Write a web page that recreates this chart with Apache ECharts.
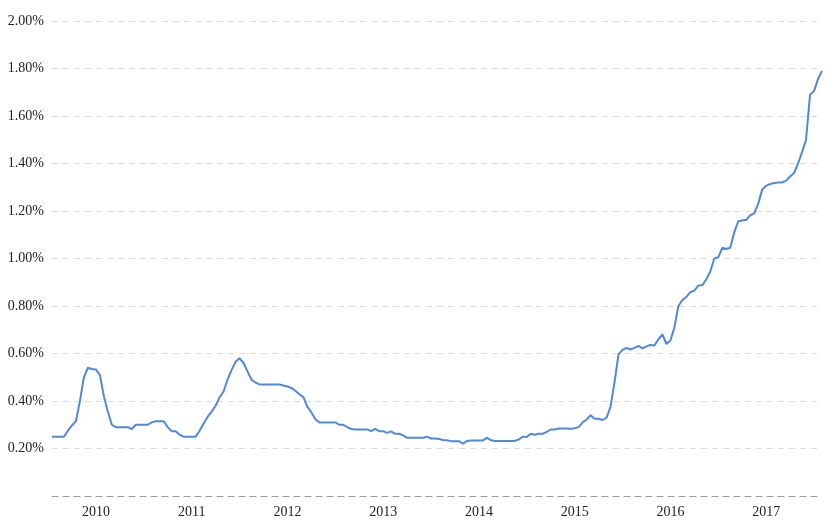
<!DOCTYPE html>
<html>
<head>
<meta charset="utf-8">
<script src="https://cdn.jsdelivr.net/npm/echarts@6/dist/echarts.min.js"></script>
<style>
  html, body { margin: 0; padding: 0; background: #fff; }
  #chart { width: 825px; height: 523px; }
</style>
</head>
<body>
<div id="chart"></div>
<script>
// rate in %, read twice a month (1st and 15th); 2010 starts on Jan 15
const rates2010 = [0.25, 0.25, 0.25, 0.25, 0.275, 0.297, 0.315, 0.40, 0.50, 0.54, 0.535, 0.533,
  0.51, 0.42, 0.355, 0.30, 0.29, 0.29, 0.29, 0.29, 0.282, 0.30, 0.30];
const rates2011 = [0.30, 0.30, 0.31, 0.315, 0.315, 0.315, 0.29, 0.273, 0.273, 0.258, 0.25, 0.25,
  0.25, 0.25, 0.275, 0.305, 0.333, 0.355, 0.38, 0.415, 0.44, 0.49, 0.53, 0.565];
const rates2012 = [0.58, 0.56, 0.525, 0.49, 0.478, 0.47, 0.47, 0.47, 0.47, 0.47, 0.47, 0.465,
  0.461, 0.455, 0.443, 0.428, 0.417, 0.375, 0.353, 0.323, 0.31, 0.31, 0.31, 0.31];
const rates2013 = [0.31, 0.30, 0.30, 0.29, 0.282, 0.28, 0.28, 0.28, 0.28, 0.273, 0.283, 0.273,
  0.273, 0.266, 0.272, 0.262, 0.262, 0.255, 0.245, 0.245, 0.245, 0.245, 0.245, 0.25];
const rates2014 = [0.242, 0.242, 0.24, 0.236, 0.235, 0.231, 0.231, 0.231, 0.22, 0.232, 0.234, 0.234,
  0.234, 0.234, 0.245, 0.235, 0.232, 0.232, 0.232, 0.232, 0.232, 0.232, 0.238, 0.25];
const rates2015 = [0.248, 0.262, 0.258, 0.262, 0.262, 0.27, 0.28, 0.28, 0.284, 0.284, 0.284, 0.283,
  0.285, 0.29, 0.31, 0.322, 0.34, 0.325, 0.325, 0.32, 0.33, 0.375, 0.48, 0.596];
const rates2016 = [0.615, 0.624, 0.617, 0.624, 0.632, 0.622, 0.63, 0.636, 0.634, 0.66, 0.68, 0.64,
  0.655, 0.71, 0.80, 0.825, 0.838, 0.858, 0.865, 0.886, 0.888, 0.912, 0.945, 1.00];
const rates2017 = [1.005, 1.045, 1.04, 1.045, 1.11, 1.157, 1.16, 1.163, 1.182, 1.19, 1.23, 1.29,
  1.306, 1.314, 1.318, 1.32, 1.32, 1.328, 1.345, 1.36, 1.40, 1.448, 1.50, 1.69];
const rates2018 = [1.705, 1.755, 1.79];

const yearRates = [rates2010, rates2011, rates2012, rates2013, rates2014, rates2015, rates2016, rates2017, rates2018];
const firstYear = 2010;

// build the date categories and the flat series
let dates = [];
let values = [];
yearRates.forEach((arr, yi) => {
  let shift = yi === 0 ? 1 : 0;
  arr.forEach((v, k) => {
    let slot = k + shift;
    let month = Math.floor(slot / 2) + 1;
    let day = slot % 2 ? "15" : "01";
    dates.push((firstYear + yi) + "-" + String(month).padStart(2, "0") + "-" + day);
    values.push(v);
  });
});

let myChart = echarts.init(document.getElementById("chart"));
let option = {
  animation: false,
  grid: { left: 52, right: 3, top: 21, bottom: 27 },
  xAxis: {
    type: "category",
    data: dates,
    boundaryGap: false,
    axisLine: { show: true, lineStyle: { color: "#9a9a9a", type: [6, 5], width: 1 } },
    axisTick: { show: false },
    axisLabel: {
      // one label per year, placed in mid-year
      interval: (idx, val) => val.slice(5) === "07-01",
      formatter: val => val.slice(0, 4),
      color: "#222",
      fontFamily: "Liberation Serif",
      fontSize: 14,
      margin: 9
    },
    splitLine: { show: false }
  },
  yAxis: {
    type: "value",
    min: 0,
    max: 2,
    interval: 0.2,
    axisLine: { show: false },
    axisTick: { show: false },
    axisLabel: {
      formatter: v => (v === 0 ? "" : v.toFixed(2) + "%"),
      color: "#222",
      fontFamily: "Liberation Serif",
      fontSize: 14,
      margin: 8
    },
    splitLine: { lineStyle: { color: "#dcdcdc", type: [6, 5], width: 1 } }
  },
  series: [
    {
      type: "line",
      data: values,
      showSymbol: false,
      smooth: false,
      lineStyle: { color: "#5189d8", width: 2 }
    }
  ]
};
myChart.setOption(option);
</script>
</body>
</html>
